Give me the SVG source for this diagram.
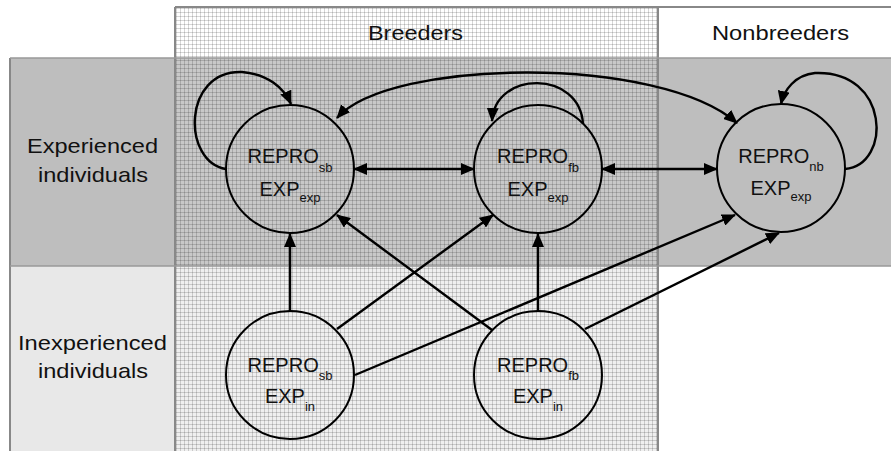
<svg xmlns="http://www.w3.org/2000/svg" width="891" height="451" viewBox="0 0 891 451">
<style>
.lbl{font-family:"Liberation Sans",Arial,sans-serif;font-size:21px;fill:#111;text-anchor:middle}
.nt{font-family:"Liberation Sans",Arial,sans-serif;font-size:20px;fill:#111;text-anchor:middle}
.sub{font-size:13px}
.node{fill:none;stroke:#000;stroke-width:2}
.edge{fill:none;stroke:#000;stroke-width:2.4}
.grid-line{stroke:#888;stroke-width:2;fill:none}
</style>
<defs>
<pattern id="grid" patternUnits="userSpaceOnUse" width="4" height="4">
<path d="M0,0.5 H4 M0.5,0 V4" stroke="#000" stroke-opacity="0.16" stroke-width="1" fill="none"/>
</pattern>
<marker id="ah" markerUnits="userSpaceOnUse" markerWidth="14" markerHeight="12" refX="13" refY="6" orient="auto-start-reverse" viewBox="0 0 14 12">
<path d="M0,0 L14,6 L0,12 z" fill="#000"/>
</marker>
</defs>
<g id="table">
<rect x="0" y="0" width="891" height="451" fill="#fff"/>
<rect x="10" y="58" width="165" height="208" fill="#bebebe"/>
<rect x="10" y="266" width="165" height="185" fill="#e8e8e8"/>
<rect x="175" y="7" width="483" height="51" fill="#fff"/>
<rect x="175" y="58" width="483" height="208" fill="#c8c8c8"/>
<rect x="175" y="266" width="483" height="185" fill="#efefef"/>
<rect x="175" y="7" width="483" height="444" fill="url(#grid)"/>
<rect x="658" y="58" width="233" height="208" fill="#bebebe"/>
<path class="grid-line" d="M175,7 H891 M175,7 V451 M658,7 V451 M10,58 V451"/>
<path d="M10,58 H891 M10,266 H891" stroke="#999" stroke-width="1.5" fill="none"/>
<text class="lbl" x="415.5" y="40" textLength="95" lengthAdjust="spacingAndGlyphs">Breeders</text>
<text class="lbl" x="780.5" y="40" textLength="137" lengthAdjust="spacingAndGlyphs">Nonbreeders</text>
<text class="lbl" x="92.5" y="153" textLength="131" lengthAdjust="spacingAndGlyphs">Experienced</text>
<text class="lbl" x="93" y="182" textLength="110" lengthAdjust="spacingAndGlyphs">individuals</text>
<text class="lbl" x="92.5" y="350" textLength="149" lengthAdjust="spacingAndGlyphs">Inexperienced</text>
<text class="lbl" x="93" y="378" textLength="110" lengthAdjust="spacingAndGlyphs">individuals</text>
</g>
<g id="connectors">
<path class="edge" d="M226,169 C182,162 182,70 242,72 C268,74 284,88 291,104" marker-end="url(#ah)"/>
<path class="edge" d="M583,124 C580,70 495,70 492,121" marker-end="url(#ah)"/>
<path class="edge" d="M845,169 C892,165 890,70 815,73 C795,75 784,90 781,104" marker-end="url(#ah)"/>
<path class="edge" d="M337,118 C390,58 660,55 737,123" marker-start="url(#ah)" marker-end="url(#ah)"/>
<path class="edge" d="M354,169 H474" marker-start="url(#ah)" marker-end="url(#ah)"/>
<path class="edge" d="M602,169 H717" marker-start="url(#ah)" marker-end="url(#ah)"/>
<path class="edge" d="M290,311 V234" marker-end="url(#ah)"/>
<path class="edge" d="M538,311 V234" marker-end="url(#ah)"/>
<path class="edge" d="M337,329 L493,215" marker-end="url(#ah)"/>
<path class="edge" d="M492,330 L337,215" marker-end="url(#ah)"/>
<path class="edge" d="M355,375 L735,215" marker-end="url(#ah)"/>
<path class="edge" d="M585,329 L779,233" marker-end="url(#ah)"/>
</g>
<g id="node-sb-exp">
<circle class="node" cx="290" cy="169" r="64"/>
<text class="nt" x="290" y="163">REPRO<tspan class="sub" dy="9">sb</tspan></text>
<text class="nt" x="290" y="196">EXP<tspan class="sub" dy="6">exp</tspan></text>
</g>
<g id="node-fb-exp">
<circle class="node" cx="538" cy="169" r="64"/>
<text class="nt" x="538" y="163">REPRO<tspan class="sub" dy="9">fb</tspan></text>
<text class="nt" x="538" y="196">EXP<tspan class="sub" dy="6">exp</tspan></text>
</g>
<g id="node-nb-exp">
<circle class="node" cx="781" cy="168" r="64"/>
<text class="nt" x="781" y="163">REPRO<tspan class="sub" dy="8">nb</tspan></text>
<text class="nt" x="781" y="195">EXP<tspan class="sub" dy="6">exp</tspan></text>
</g>
<g id="node-sb-in">
<circle class="node" cx="290" cy="375" r="64"/>
<text class="nt" x="290" y="372">REPRO<tspan class="sub" dy="8">sb</tspan></text>
<text class="nt" x="290" y="403">EXP<tspan class="sub" dy="8">in</tspan></text>
</g>
<g id="node-fb-in">
<circle class="node" cx="538" cy="375" r="64"/>
<text class="nt" x="538" y="372">REPRO<tspan class="sub" dy="8">fb</tspan></text>
<text class="nt" x="538" y="403">EXP<tspan class="sub" dy="8">in</tspan></text>
</g>
</svg>
